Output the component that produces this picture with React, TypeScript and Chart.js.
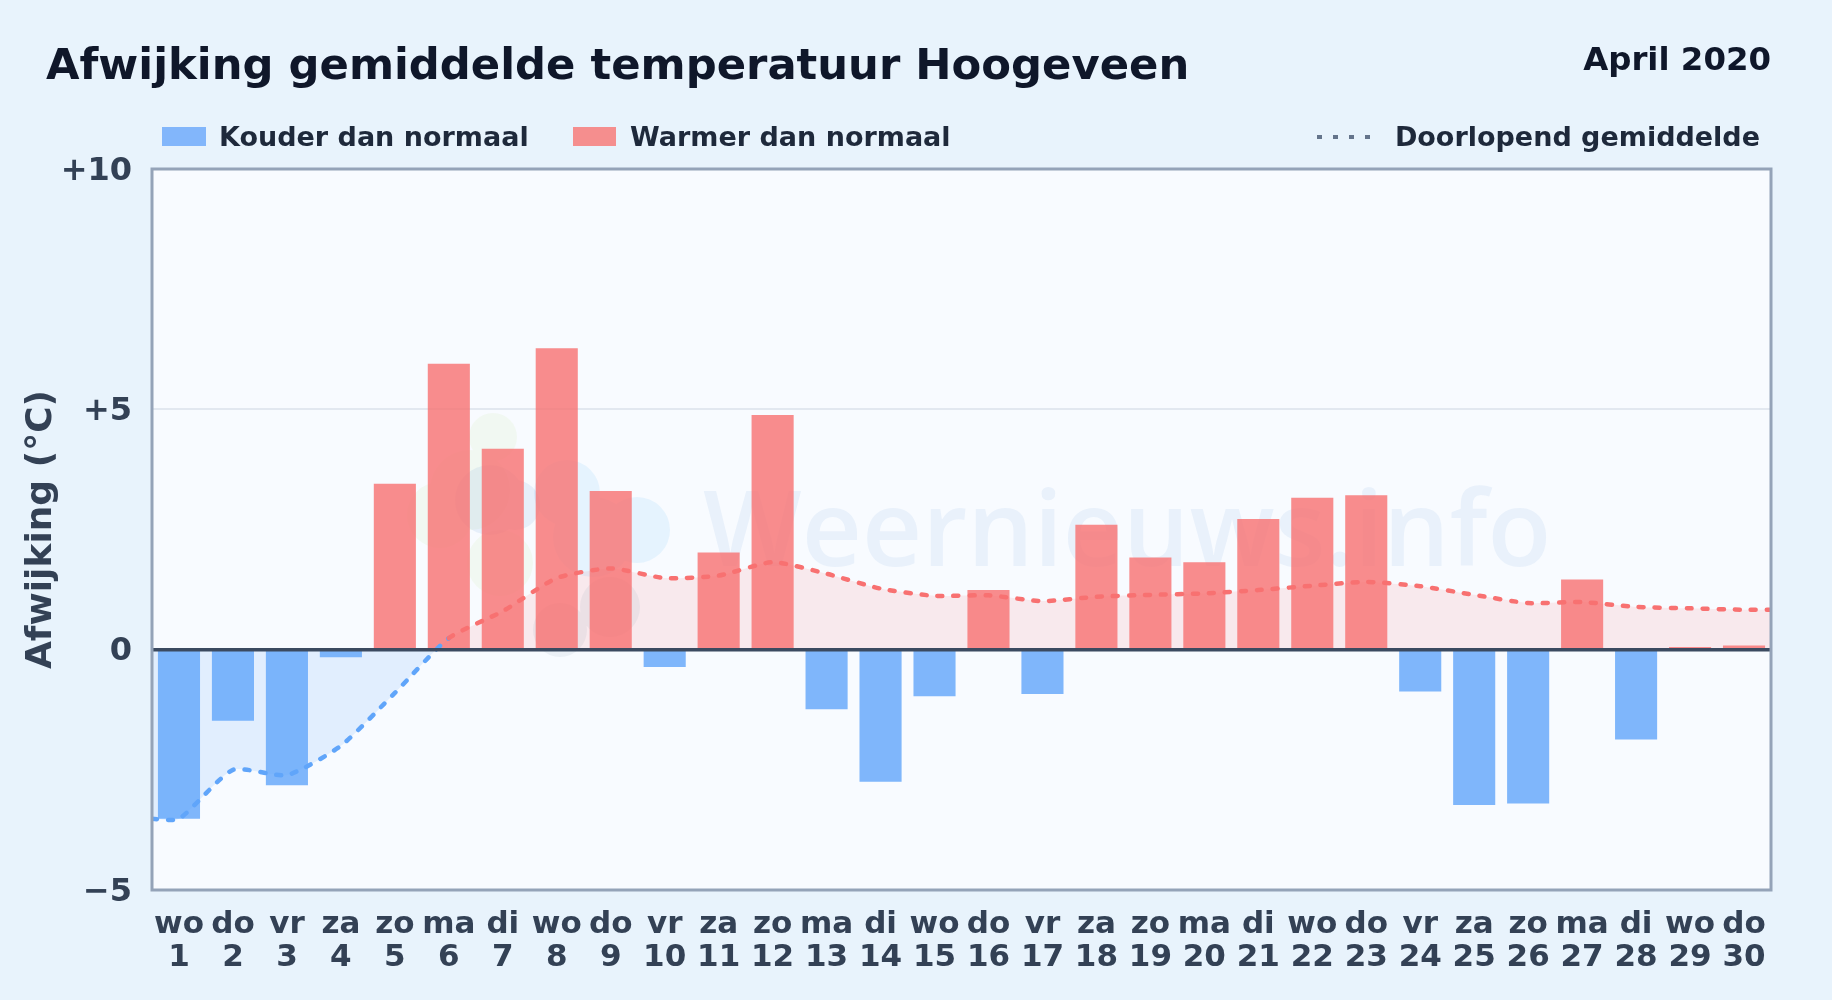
import React, { useEffect, useRef } from "react";
import { Chart, registerables } from "chart.js";

Chart.register(...registerables);

const weekdays = ["wo","do","vr","za","zo","ma","di","wo","do","vr","za","zo","ma","di","wo","do","vr","za","zo","ma","di","wo","do","vr","za","zo","ma","di","wo","do"];
const days = ["1","2","3","4","5","6","7","8","9","10","11","12","13","14","15","16","17","18","19","20","21","22","23","24","25","26","27","28","29","30"];
const deviations = [-3.52,-1.48,-2.82,-0.16,3.45,5.95,4.18,6.27,3.3,-0.36,2.02,4.88,-1.24,-2.75,-0.97,1.24,-0.92,2.6,1.92,1.82,2.72,3.16,3.21,-0.87,-3.23,-3.2,1.46,-1.87,0.055,0.085];
const runningMean = [-3.52,-2.5,-2.61,-2.0,-0.9,0.24,0.8,1.49,1.69,1.49,1.54,1.82,1.58,1.27,1.12,1.13,1.01,1.1,1.14,1.17,1.24,1.33,1.41,1.32,1.14,0.97,0.99,0.89,0.86,0.83];
const yTicks = [-5, 0, 5, 10];
const FONT = '"DejaVu Sans", sans-serif';

const BLUE = "#60a5fa";
const RED = "#f87171";

const logoParts: { color: string; blobs: [number, number, number][] }[] = [
  { color: "rgba(190,225,130,0.10)", blobs: [[341, 268, 24], [288, 346, 33], [348, 394, 33], [318, 321, 40]] },
  { color: "rgba(100,190,250,0.12)", blobs: [[415, 324, 33], [485, 361, 33], [441, 368, 40]] },
  { color: "rgba(60,120,200,0.09)", blobs: [[338, 331, 35], [363, 336, 25]] },
  { color: "rgba(110,130,160,0.09)", blobs: [[458, 438, 30], [408, 461, 27]] },
];

const backdrop = {
  id: "backdrop",
  beforeDatasetsDraw(chart: any) {
    const { ctx, chartArea: a } = chart;
    ctx.save();
    ctx.beginPath();
    ctx.rect(a.left, a.top, a.right - a.left, a.bottom - a.top);
    ctx.clip();
    for (const part of logoParts) {
      ctx.fillStyle = part.color;
      ctx.beginPath();
      for (const [dx, dy, r] of part.blobs) {
        ctx.moveTo(a.left + dx + r, a.top + dy);
        ctx.arc(a.left + dx, a.top + dy, r, 0, Math.PI * 2);
      }
      ctx.fill();
    }
    ctx.fillStyle = "rgba(50,120,200,0.075)";
    ctx.font = `600 104.5px "Open Sans", sans-serif`;
    ctx.textBaseline = "alphabetic";
    ctx.fillText("Weernieuws.info", a.left + 551, a.top + 397);
    ctx.restore();
  },
};

const areaBg = {
  id: "areaBg",
  beforeDraw(chart: any) {
    const { ctx, chartArea: a, scales } = chart;
    ctx.save();
    ctx.fillStyle = "#f8fbff";
    ctx.fillRect(a.left, a.top, a.right - a.left, a.bottom - a.top);
    ctx.restore();
    // Nudge the y tick labels slightly below the geometric middle of their tick.
    const items = scales.y.getLabelItems();
    if (!items.__nudged) {
      items.forEach((it: any) => { it.options.translation[1] += 2.5; });
      items.__nudged = true;
    }
  },
};

const frame = {
  id: "frame",
  afterDatasetsDraw(chart: any) {
    const { ctx, chartArea: a, scales } = chart;
    const y0 = scales.y.getPixelForValue(0);
    ctx.save();
    ctx.strokeStyle = "#3b4a60";
    ctx.lineWidth = 3.5;
    ctx.beginPath();
    ctx.moveTo(a.left, y0);
    ctx.lineTo(a.right, y0);
    ctx.stroke();
    ctx.strokeStyle = "#94a3b8";
    ctx.lineWidth = 3;
    ctx.strokeRect(a.left, a.top, a.right - a.left, a.bottom - a.top);
    ctx.restore();
  },
};

const linePoints = [
  { x: 0.5, y: runningMean[0] },
  ...runningMean.map((y, i) => ({ x: i + 1, y })),
  { x: 30.5, y: runningMean[runningMean.length - 1] },
];

const abs = (top: number, extra: any = {}) => ({ position: "absolute", top, whiteSpace: "nowrap", fontFamily: FONT, fontWeight: 700, ...extra });

export default function App() {
  const ref = useRef<HTMLCanvasElement>(null);
  useEffect(() => {
    const chart = new Chart(ref.current!, {
      data: {
        labels: weekdays.map((w, i) => [w, days[i]]),
        datasets: [
          {
            type: "line",
            label: "Doorlopend gemiddelde",
            data: linePoints,
            xAxisID: "xLine",
            borderColor: RED,
            segment: { borderColor: (c: any) => (c.p0.parsed.y < 0 ? BLUE : RED) },
            borderWidth: 4.5,
            borderDash: [5, 11],
            borderCapStyle: "round",
            pointRadius: 0,
            tension: 0.2,
            fill: { target: { value: 0 }, above: "rgba(248,113,113,0.13)", below: "rgba(96,165,250,0.15)" },
            order: 0,
          },
          {
            type: "bar",
            label: "Afwijking",
            data: deviations,
            backgroundColor: (c: any) => ((c.raw ?? 0) < 0 ? "rgba(96,165,250,0.8)" : "rgba(248,113,113,0.8)"),
            barPercentage: 0.78,
            categoryPercentage: 1,
            grouped: false,
            order: 1,
          },
        ],
      } as any,
      options: {
        animation: false,
        responsive: false,
        devicePixelRatio: 1,
        layout: { padding: { top: 169, right: 61, left: 20, bottom: 0 } },
        plugins: {
          legend: { display: false },
          tooltip: { enabled: false },
          filler: { drawTime: "beforeDatasetsDraw" },
        },
        scales: {
          x: {
            grid: { display: false },
            border: { display: false },
            ticks: { color: "#334155", font: { family: FONT, weight: "bold", size: 31, lineHeight: 1.06 }, maxRotation: 0, autoSkip: false, padding: 11 },
            afterFit: (s: any) => { s.height = 110; },
          },
          xLine: { type: "linear", min: 0.5, max: 30.5, display: false },
          y: {
            min: -5,
            max: 10,
            afterBuildTicks: (s: any) => { s.ticks = yTicks.map((value) => ({ value })); },
            afterFit: (s: any) => { s.width = 132; },
            grid: { color: (c: any) => (c.tick.value === 5 ? "#e2e8f0" : "transparent"), lineWidth: 2, drawTicks: false },
            border: { display: false },
            title: { display: true, text: "Afwijking (°C)", color: "#334155", font: { family: FONT, weight: "bold", size: 36 }, padding: 0 },
            ticks: {
              color: "#334155",
              font: { family: FONT, weight: "bold", size: 32 },
              padding: 20,
              callback: (v: any) => (v > 0 ? `+${v}` : v < 0 ? `\u2212${-v}` : "0"),
            },
          },
        },
      } as any,
      plugins: [areaBg, backdrop, frame],
    });
    return () => chart.destroy();
  }, []);

  return (
    <div style={{ position: "fixed", left: 0, top: 0, width: 1832, height: 1000, overflow: "hidden", background: "#e8f3fc" } as any}>
      <canvas ref={ref} width={1832} height={1000} style={{ position: "absolute", left: 0, top: 0, width: 1832, height: 1000 }} />
      <div style={abs(39, { left: 46, fontSize: 43.3, color: "#0f172a" }) as any}>Afwijking gemiddelde temperatuur Hoogeveen</div>
      <div style={abs(40, { right: 61, fontSize: 32.4, color: "#0f172a" }) as any}>April 2020</div>
      <div style={{ position: "absolute", left: 162, top: 127, width: 44, height: 19, background: "#82b6fb" }} />
      <div style={abs(121, { left: 219, fontSize: 27, color: "#1e293b" }) as any}>Kouder dan normaal</div>
      <div style={{ position: "absolute", left: 573, top: 127, width: 43, height: 19, background: "#f58e8e" }} />
      <div style={abs(121, { left: 630, fontSize: 27, color: "#1e293b" }) as any}>Warmer dan normaal</div>
      <div style={{ position: "absolute", left: 1317, top: 135, width: 56, height: 4, background: "repeating-linear-gradient(90deg, #64748b 0 5.5px, transparent 5.5px 16px)" }} />
      <div style={abs(121, { right: 72, fontSize: 27, color: "#1e293b" }) as any}>Doorlopend gemiddelde</div>
    </div>
  );
}
